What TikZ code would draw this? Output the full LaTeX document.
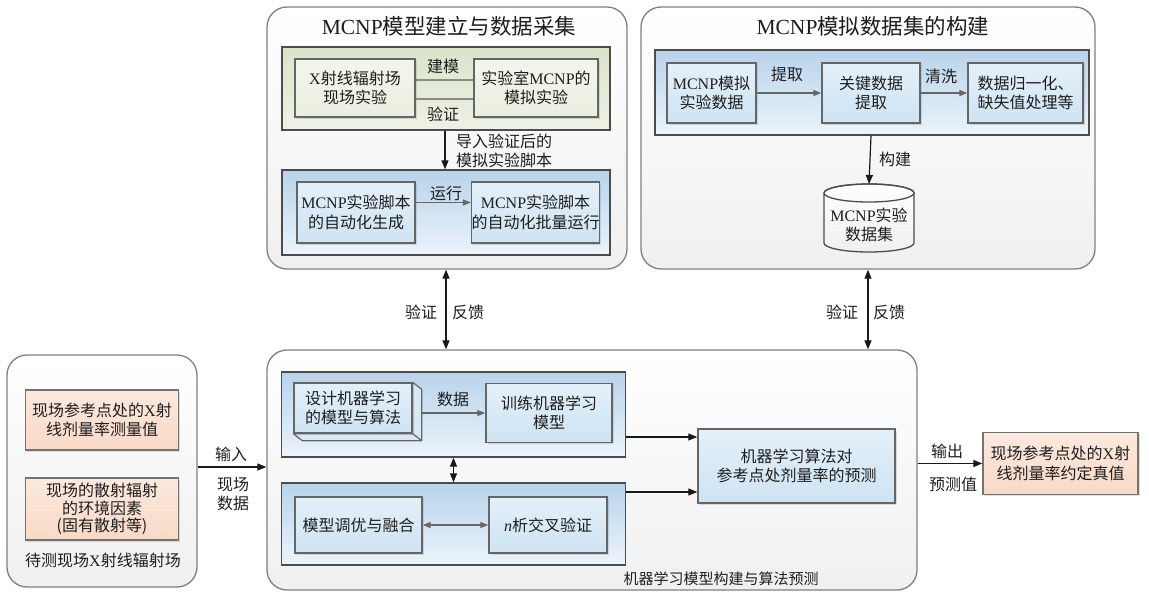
\documentclass[tikz,border=0pt]{standalone}
\usepackage{fontspec}
\setmainfont{Noto Sans CJK SC}
\newfontfamily\lat{Liberation Serif}
\usetikzlibrary{arrows.meta,shadows,calc}
\newcommand\LT[1]{{\lat #1}}
\newcommand\fs{\fontsize{16pt}{19.5pt}\selectfont}
\newcommand\fss{\fontsize{15pt}{18pt}\selectfont}
\newcommand\ft{\fontsize{21.5pt}{24pt}\selectfont}
\definecolor{bpT}{RGB}{184,211,235}
\definecolor{bpB}{RGB}{236,244,251}
\definecolor{bbT}{RGB}{228,240,249}
\definecolor{bbB}{RGB}{206,227,243}
\definecolor{gpT}{RGB}{218,227,202}
\definecolor{gpB}{RGB}{238,242,229}
\definecolor{gbT}{RGB}{244,246,236}
\definecolor{gbB}{RGB}{234,238,223}
\definecolor{obT}{RGB}{252,233,222}
\definecolor{obB}{RGB}{248,217,199}
\definecolor{txt}{RGB}{30,30,30}
\begin{document}
\begin{tikzpicture}[x=1pt,y=-1pt,
  every node/.style={text=txt},
  outer/.style={draw=black!50, line width=1.3pt, rounded corners=20pt, top color=white, bottom color=black!6, inner sep=0pt},
  bpanel/.style={draw=black!70, line width=1.4pt, top color=bpT, bottom color=bpB, inner sep=0pt},
  gpanel/.style={draw=black!70, line width=1.4pt, top color=gpT, bottom color=gpB, inner sep=0pt},
  sh/.style={drop shadow={shadow xshift=1.5pt, shadow yshift=-1.5pt, opacity=0.25}},
  bbox/.style={draw=black!60, line width=1.4pt, top color=bbT, bottom color=bbB, align=center, font=\fs, inner sep=0pt, sh},
  gbox/.style={draw=black!60, line width=1.4pt, top color=gbT, bottom color=gbB, align=center, font=\fs, inner sep=0pt, sh},
  obox/.style={draw=black!55, line width=1.4pt, top color=obT, bottom color=obB, align=center, font=\fs, inner sep=0pt, sh},
  lbl/.style={font=\fs, align=center, inner sep=1pt},
  arr/.style={-{Triangle[length=9pt,width=7pt]}, line width=1.2pt, black!90},
  darr/.style={{Triangle[length=9pt,width=7pt]}-{Triangle[length=9pt,width=7pt]}, line width=1.2pt, black!90},
  garr/.style={-{Triangle[length=8pt,width=6pt]}, line width=1.3pt, black!60},
  gdarr/.style={{Triangle[length=8pt,width=6pt]}-{Triangle[length=8pt,width=6pt]}, line width=1.3pt, black!60},
  glink/.style={line width=2pt, black!45}
]
\useasboundingbox (0,0) rectangle (1149,598);

% ---------- outer panels ----------
\node[outer, minimum width=360pt, minimum height=262pt] (P1) at (447,138) {};
\node[outer, minimum width=454pt, minimum height=262pt] (P2) at (868,138) {};
\node[outer, minimum width=650pt, minimum height=240pt] (P3) at (592,470) {};
\node[outer, minimum width=190pt, minimum height=232pt] (P4) at (102,471) {};

% ---------- top-left panel ----------
\node[font=\ft] (t1) at (449,26) {\LT{MCNP}模型建立与数据采集};
\node[gpanel, minimum width=328pt, minimum height=83pt] (gp) at (446,88.5) {};
\node[gbox, minimum width=120pt, minimum height=58pt] (g1) at (355,88) {\LT{X}射线辐射场\\现场实验};
\node[gbox, minimum width=124pt, minimum height=58pt] (g2) at (536,88) {实验室\LT{MCNP}的\\模拟实验};
\draw[glink] ([yshift=8pt]g1.east) -- ([yshift=8pt]g2.west);
\draw[glink] ([yshift=-11pt]g1.east) -- ([yshift=-11pt]g2.west);
\node[lbl] (l_jm) at (443,66) {建模};
\node[lbl] (l_yz) at (443,114) {验证};

\node[bpanel, minimum width=328pt, minimum height=85pt] (bp1) at (446,212.5) {};
\draw[arr] ([xshift=-1pt]gp.south) -- ([xshift=-1pt]bp1.north);
\node[lbl, anchor=west] (l_dr) at (455,151) {导入验证后的\\模拟实验脚本};
\node[bbox, minimum width=118pt, minimum height=61pt] (b1) at (356,212.5) {\LT{MCNP}实验脚本\\的自动化生成};
\node[bbox, minimum width=125pt, minimum height=61pt] (b2) at (535.5,212.5) {\LT{MCNP}实验脚本\\的自动化批量运行};
\draw[garr] ([yshift=10pt]b1.east) -- ([yshift=10pt]b2.west);
\node[lbl] (l_yx) at (446,193) {运行};

% ---------- top-right panel ----------
\node[font=\ft] (t2) at (873,26) {\LT{MCNP}模拟数据集的构建};
\node[bpanel, minimum width=434pt, minimum height=85pt] (bp2) at (872,92.5) {};
\node[bbox, minimum width=89pt, minimum height=60pt] (c1) at (711.5,93) {\LT{MCNP}模拟\\实验数据};
\node[bbox, minimum width=98pt, minimum height=60pt] (c2) at (871,93) {关键数据\\提取};
\node[bbox, minimum width=115pt, minimum height=60pt] (c3) at (1025.5,93) {数据归一化、\\缺失值处理等};
\draw[garr] (c1.east) -- (c2.west);
\draw[garr] (c2.east) -- (c3.west);
\node[lbl] (l_tq) at (787,74) {提取};
\node[lbl] (l_qx) at (941,76) {清洗};

% cylinder
\coordinate (dbtop) at (869,184);
\path[top color=white, bottom color=black!6, draw=black!70, line width=1.3pt]
  (824,193) -- (824,243) arc[start angle=180, end angle=0, x radius=45, y radius=9]
  -- (914,193) arc[start angle=0, end angle=-180, x radius=45, y radius=9] -- cycle;
\draw[black!70, line width=1.3pt] (869,193) ellipse[x radius=45, y radius=9];
\node[lbl] (db) at (869,225) {\LT{MCNP}实验\\数据集};
\draw[arr] (c2.south |- bp2.south) -- (dbtop);
\node[lbl] (l_gj) at (895,159) {构建};

% ---------- vertical feedback arrows ----------
\draw[darr] ([xshift=-1pt]P1.south) -- ([xshift=-1pt]P1.south |- P3.north);
\draw[darr] (P2.south) -- (P2.south |- P3.north);
\node[lbl] (v1) at (421,312) {验证};
\node[lbl] (f1) at (468,312) {反馈};
\node[lbl] (v2) at (842,312) {验证};
\node[lbl] (f2) at (889,312) {反馈};

% ---------- bottom-center panel ----------
\node[bpanel, minimum width=344pt, minimum height=85pt] (bp3) at (453.5,414.5) {};
\node[bpanel, minimum width=344pt, minimum height=82pt] (bp4) at (453.5,524) {};

\node[draw=black!60, line width=1.4pt, top color=bbT, bottom color=bbB, align=center, font=\fs, inner sep=0pt, minimum width=118pt, minimum height=50pt] (d1) at (353,408) {设计机器学习\\的模型与算法};
\filldraw[draw=black!60, line width=1.2pt, fill=bbB!80!white, line join=round]
  (d1.north east) -- ++(9,7) -- ($(d1.south east)+(9,7)$) -- ($(d1.south west)+(9,7)$) -- (d1.south west) -- (d1.south east) -- cycle;
\draw[black!60, line width=1.2pt] (d1.south east) -- ++(9,7);
\node[bbox, minimum width=126pt, minimum height=59pt] (d2) at (549,413) {训练机器学习\\模型};
\draw[garr] ([xshift=9pt,yshift=-5pt]d1.east) -- (d2.west |- 0,413);
\node[lbl] (l_sj) at (453,399) {数据};

\node[bbox, minimum width=127pt, minimum height=56pt] (e1) at (358.5,525) {模型调优与融合};
\node[bbox, minimum width=118pt, minimum height=56pt] (e2) at (548,525) {\LT{\itshape n}析交叉验证};
\draw[gdarr] (e1.east) -- (e2.west);
\draw[darr] (bp3.south) -- (bp4.north);

\node[bbox, minimum width=197pt, minimum height=74pt, fill=bbB] (pred) at (796.5,466) {机器学习算法对\\参考点处剂量率的预测};
\draw[arr] ([yshift=-22.5pt]bp3.east) -- (pred.west |- 0,437);
\draw[arr] ([yshift=32pt]bp4.east) -- (pred.west |- 0,492);
\node[font=\fss, inner sep=1pt] (l_ml) at (721,579) {机器学习模型构建与算法预测};

% ---------- right output ----------
\node[obox, minimum width=155pt, minimum height=62pt] (out) at (1060.5,463.5) {现场参考点处的\LT{X}射\\线剂量率约定真值};
\draw[arr] (P3.east |- out.west) -- (out.west);
\node[lbl] (l_sc) at (947,451) {输出};
\node[lbl] (l_ycz) at (953,484) {预测值};

% ---------- left panel ----------
\node[obox, minimum width=153pt, minimum height=60pt] (lb1) at (102,420) {现场参考点处的\LT{X}射\\线剂量率测量值};
\node[obox, minimum width=153pt, minimum height=62pt, font=\fontsize{16pt}{17.5pt}\selectfont] (lb2) at (102,509) {现场的散射辐射\\的环境因素\\(固有散射等)};
\node[lbl] (l_dc) at (103,560) {待测现场\LT{X}射线辐射场};
\draw[arr] ([yshift=4pt]P4.east) -- ([yshift=4pt]P4.east -| P3.west);
\node[lbl] (l_sr) at (231,454) {输入};
\node[lbl] (l_xc) at (233,494) {现场\\数据};
\end{tikzpicture}
\end{document}
